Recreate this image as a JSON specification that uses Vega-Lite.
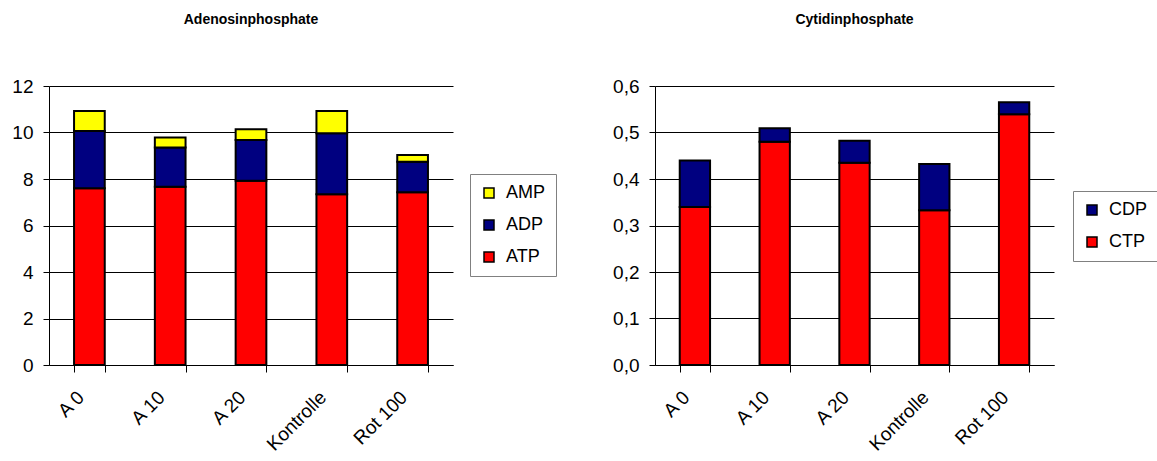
{
  "$schema": "https://vega.github.io/schema/vega-lite/v6.json",
  "background": "white",
  "padding": {"left": 11, "top": 13, "right": 0, "bottom": 0},
  "spacing": 202,
  "bounds": "flush",
  "resolve": {"scale": {"color": "independent"}},
  "config": {
    "font": "Liberation Sans",
    "view": {"stroke": null},
    "axis": {"labelColor": "black", "domainColor": "black", "tickColor": "black", "gridColor": "black", "gridOpacity": 1, "domainWidth": 1, "tickWidth": 1, "gridWidth": 1}
  },
  "datasets": {
    "aden": [
      {"probe": "A 0", "comp": "ATP", "value": 7.6},
      {"probe": "A 0", "comp": "ADP", "value": 2.46},
      {"probe": "A 0", "comp": "AMP", "value": 0.86},
      {"probe": "A 10", "comp": "ATP", "value": 7.67},
      {"probe": "A 10", "comp": "ADP", "value": 1.68},
      {"probe": "A 10", "comp": "AMP", "value": 0.43},
      {"probe": "A 20", "comp": "ATP", "value": 7.93},
      {"probe": "A 20", "comp": "ADP", "value": 1.75},
      {"probe": "A 20", "comp": "AMP", "value": 0.46},
      {"probe": "Kontrolle", "comp": "ATP", "value": 7.34},
      {"probe": "Kontrolle", "comp": "ADP", "value": 2.63},
      {"probe": "Kontrolle", "comp": "AMP", "value": 0.95},
      {"probe": "Rot 100", "comp": "ATP", "value": 7.43},
      {"probe": "Rot 100", "comp": "ADP", "value": 1.31},
      {"probe": "Rot 100", "comp": "AMP", "value": 0.29}
    ],
    "stackA": [
      {"comp": "ATP", "stackrank": 0},
      {"comp": "ADP", "stackrank": 1},
      {"comp": "AMP", "stackrank": 2}
    ],
    "cyt": [
      {"probe": "A 0", "comp": "CTP", "value": 0.34},
      {"probe": "A 0", "comp": "CDP", "value": 0.1},
      {"probe": "A 10", "comp": "CTP", "value": 0.48},
      {"probe": "A 10", "comp": "CDP", "value": 0.029},
      {"probe": "A 20", "comp": "CTP", "value": 0.435},
      {"probe": "A 20", "comp": "CDP", "value": 0.047},
      {"probe": "Kontrolle", "comp": "CTP", "value": 0.333},
      {"probe": "Kontrolle", "comp": "CDP", "value": 0.099},
      {"probe": "Rot 100", "comp": "CTP", "value": 0.539},
      {"probe": "Rot 100", "comp": "CDP", "value": 0.026}
    ]
  },
  "hconcat": [
    {
      "title": {"text": "Adenosinphosphate", "fontSize": 14, "fontWeight": "bold", "offset": 50, "anchor": "middle", "color": "black"},
      "width": 404,
      "height": 279,
      "data": {"name": "aden"},
      "transform": [
        {"lookup": "comp", "from": {"data": {"name": "stackA"}, "key": "comp", "fields": ["stackrank"]}}
      ],
      "mark": {"type": "bar", "stroke": "black", "strokeWidth": 2},
      "encoding": {
        "x": {"field": "probe", "type": "nominal", "sort": ["A 0", "A 10", "A 20", "Kontrolle", "Rot 100"],
          "scale": {"paddingInner": 0.62, "paddingOuter": 0.31},
          "axis": {"title": null, "labelAngle": -45, "labelAlign": "right", "labelBaseline": "middle", "labelFontSize": 19, "labelPadding": 22, "labelOffset": -9, "tickBand": "extent", "tickSize": 7}},
        "y": {"field": "value", "type": "quantitative", "stack": "zero", "scale": {"domain": [0, 12]},
          "axis": {"title": null, "values": [0, 2, 4, 6, 8, 10, 12], "grid": true, "labelFontSize": 19, "labelPadding": 10, "tickSize": 6}},
        "order": {"field": "stackrank", "type": "quantitative", "sort": "ascending"},
        "color": {"field": "comp", "type": "nominal",
          "scale": {"domain": ["AMP", "ADP", "ATP"], "range": ["#FFFF00", "#000080", "#FF0000"]},
          "legend": {"title": null, "orient": "none", "legendX": 421, "legendY": 88, "strokeColor": "#808080", "fillColor": "white", "padding": 10, "symbolType": "square", "symbolSize": 100, "symbolStrokeColor": "black", "symbolStrokeWidth": 1.5, "symbolOpacity": 1, "labelFontSize": 18, "labelColor": "black", "rowPadding": 14, "labelOffset": 8}}
      }
    },
    {
      "title": {"text": "Cytidinphosphate", "fontSize": 14, "fontWeight": "bold", "offset": 50, "anchor": "middle", "color": "black"},
      "width": 399,
      "height": 279,
      "data": {"name": "cyt"},
      "mark": {"type": "bar", "stroke": "black", "strokeWidth": 2},
      "encoding": {
        "x": {"field": "probe", "type": "nominal", "sort": ["A 0", "A 10", "A 20", "Kontrolle", "Rot 100"],
          "scale": {"paddingInner": 0.62, "paddingOuter": 0.31},
          "axis": {"title": null, "labelAngle": -45, "labelAlign": "right", "labelBaseline": "middle", "labelFontSize": 19, "labelPadding": 22, "labelOffset": -9, "tickBand": "extent", "tickSize": 7}},
        "y": {"field": "value", "type": "quantitative", "stack": "zero", "scale": {"domain": [0, 0.6]},
          "axis": {"title": null, "values": [0, 0.1, 0.2, 0.3, 0.4, 0.5, 0.6], "labelExpr": "replace(format(datum.value, '.1f'), '.', ',')", "grid": true, "labelFontSize": 19, "labelPadding": 10, "tickSize": 6}},
        "color": {"field": "comp", "type": "nominal",
          "scale": {"domain": ["CDP", "CTP"], "range": ["#000080", "#FF0000"]},
          "legend": {"title": null, "orient": "none", "legendX": 418, "legendY": 105, "strokeColor": "#808080", "fillColor": "white", "padding": 10, "symbolType": "square", "symbolSize": 100, "symbolStrokeColor": "black", "symbolStrokeWidth": 1.5, "symbolOpacity": 1, "labelFontSize": 18, "labelColor": "black", "rowPadding": 14, "labelOffset": 8}}
      }
    }
  ]
}
